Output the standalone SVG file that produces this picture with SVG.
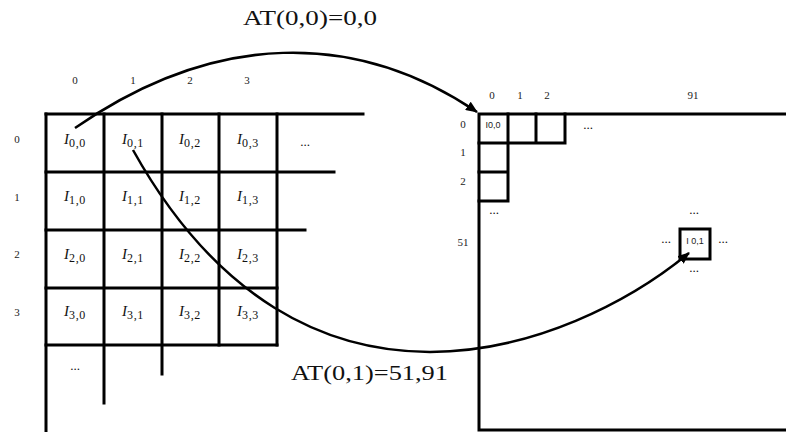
<svg xmlns="http://www.w3.org/2000/svg" width="786" height="432" viewBox="0 0 786 432">
<style>
.g{stroke:#000;stroke-width:3;fill:none;stroke-linecap:square}
.c{stroke:#000;stroke-width:2.5;fill:none}
.lb{font-family:"Liberation Serif",serif;font-size:11px;text-anchor:middle;fill:#222}
.cell{font-family:"Liberation Serif",serif;font-size:15px;text-anchor:middle;fill:#111}
.sub{font-size:12px;font-style:normal;letter-spacing:0.6px}
.big{font-family:"Liberation Serif",serif;font-size:22px;fill:#111}
.dots{font-family:"Liberation Serif",serif;font-size:13px;text-anchor:middle;fill:#111}
.sans{font-family:"Liberation Sans",sans-serif;font-size:9px;text-anchor:middle;fill:#222}
</style>
<defs>
<marker id="ah" viewBox="0 0 12 10" refX="11" refY="5" markerWidth="12" markerHeight="10" markerUnits="userSpaceOnUse" orient="auto">
<path d="M0,0 L12,5 L0,10 z" fill="#000"/>
</marker>
</defs>
<rect width="786" height="432" fill="#fff"/>

<g id="left-grid">
<path class="g" d="M46,114 H363 M46,172 H334 M46,230 H305 M46,288 H277 M46,345 H277"/>
<path class="g" d="M46,114 V432 M104,114 V403 M162,114 V374 M219,114 V345 M277,114 V345"/>
</g>

<g id="left-labels">
<text class="lb" x="75" y="84">0</text>
<text class="lb" x="133" y="84">1</text>
<text class="lb" x="190" y="84">2</text>
<text class="lb" x="247" y="84">3</text>
<text class="lb" x="17" y="143">0</text>
<text class="lb" x="17" y="201">1</text>
<text class="lb" x="17" y="258">2</text>
<text class="lb" x="17" y="316">3</text>
</g>

<g id="left-cells">
<text class="cell" x="75" y="144"><tspan font-style="italic">I</tspan><tspan class="sub" dy="3">0,0</tspan></text>
<text class="cell" x="133" y="144"><tspan font-style="italic">I</tspan><tspan class="sub" dy="3">0,1</tspan></text>
<text class="cell" x="190" y="144"><tspan font-style="italic">I</tspan><tspan class="sub" dy="3">0,2</tspan></text>
<text class="cell" x="248" y="144"><tspan font-style="italic">I</tspan><tspan class="sub" dy="3">0,3</tspan></text>
<text class="cell" x="75" y="201"><tspan font-style="italic">I</tspan><tspan class="sub" dy="3">1,0</tspan></text>
<text class="cell" x="133" y="201"><tspan font-style="italic">I</tspan><tspan class="sub" dy="3">1,1</tspan></text>
<text class="cell" x="190" y="201"><tspan font-style="italic">I</tspan><tspan class="sub" dy="3">1,2</tspan></text>
<text class="cell" x="248" y="201"><tspan font-style="italic">I</tspan><tspan class="sub" dy="3">1,3</tspan></text>
<text class="cell" x="75" y="259"><tspan font-style="italic">I</tspan><tspan class="sub" dy="3">2,0</tspan></text>
<text class="cell" x="133" y="259"><tspan font-style="italic">I</tspan><tspan class="sub" dy="3">2,1</tspan></text>
<text class="cell" x="190" y="259"><tspan font-style="italic">I</tspan><tspan class="sub" dy="3">2,2</tspan></text>
<text class="cell" x="248" y="259"><tspan font-style="italic">I</tspan><tspan class="sub" dy="3">2,3</tspan></text>
<text class="cell" x="75" y="316"><tspan font-style="italic">I</tspan><tspan class="sub" dy="3">3,0</tspan></text>
<text class="cell" x="133" y="316"><tspan font-style="italic">I</tspan><tspan class="sub" dy="3">3,1</tspan></text>
<text class="cell" x="190" y="316"><tspan font-style="italic">I</tspan><tspan class="sub" dy="3">3,2</tspan></text>
<text class="cell" x="248" y="316"><tspan font-style="italic">I</tspan><tspan class="sub" dy="3">3,3</tspan></text>
<text class="dots" x="305" y="146">...</text>
<text class="dots" x="75" y="370">...</text>
</g>

<g id="right-grid">
<path class="g" d="M479,114 H786 M479,114 V430 H786"/>
<path class="g" d="M479,143 H565 M508,114 V201 M536,114 V143 M565,114 V143 M479,172 H508 M479,201 H508"/>
<rect class="g" x="680" y="229" width="30" height="30"/>
</g>

<g id="right-labels">
<text class="lb" x="492" y="99">0</text>
<text class="lb" x="520" y="99">1</text>
<text class="lb" x="547" y="99">2</text>
<text class="lb" x="693" y="99">91</text>
<text class="lb" x="463" y="128">0</text>
<text class="lb" x="463" y="156">1</text>
<text class="lb" x="463" y="185">2</text>
<text class="lb" x="463" y="246">51</text>
<text class="sans" x="493" y="128">I0,0</text>
<text class="sans" x="695" y="244">I 0,1</text>
<text class="dots" x="588" y="129">...</text>
<text class="dots" x="494" y="214">...</text>
<text class="dots" x="694" y="214">...</text>
<text class="dots" x="666" y="243">...</text>
<text class="dots" x="723" y="243">...</text>
<text class="dots" x="694" y="272">...</text>
</g>

<g id="connectors">
<path class="c" d="M75,128 C215,31 356,30 477,112" marker-end="url(#ah)"/>
<path class="c" d="M133,150 C302,453 570,351 689,253" marker-end="url(#ah)"/>
</g>

<g id="annotations">
<text class="big" x="243" y="25" textLength="134" lengthAdjust="spacingAndGlyphs">AT(0,0)=0,0</text>
<text class="big" x="291" y="380" textLength="157" lengthAdjust="spacingAndGlyphs">AT(0,1)=51,91</text>
</g>
</svg>
